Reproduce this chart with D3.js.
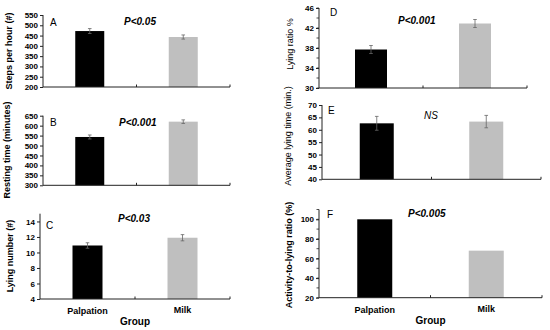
<!DOCTYPE html>
<html><head><meta charset="utf-8">
<script src="https://cdn.jsdelivr.net/npm/d3@7"></script>
<style>body{margin:0;background:#fff}svg{display:block}text{font-family:"Liberation Sans","Open Sans",Arial,sans-serif}</style>
</head><body><svg id="c" width="550" height="330"></svg>
<script>
const groups = ["Palpation", "Milk"];
const stepsPerHour = [472, 443];
const stepsErr = [12, 10];
const restingTime = [543, 620];
const restingErr = [10, 9];
const lyingNumber = [10.9, 11.9];
const lyingNumberErr = [0.35, 0.4];
const lyingRatio = [37.7, 42.9];
const lyingRatioErr = [0.8, 0.8];
const avgLyingTime = [62.6, 63.3];
const avgLyingErr = [2.8, 2.5];
const activityRatio = [100, 68];
const stepsTicks = [200,250,300,350,400,450,500,550];
const restingTicks = [300,350,400,450,500,550,600,650];
const lyingNumberTicks = [4,6,8,10,12,14];
const lyingRatioTicks = [30,34,38,42,46];
const avgLyingTicks = [40,45,50,55,60,65,70];
const activityTicks = [20,40,60,80,100];
const pLabels = ["P<0.05","P<0.001","P<0.03","P<0.001","NS","P<0.005"];
const panelLetters = ["A","B","C","D","E","F"];
const yTitles = ["Steps per hour (#)","Resting time (minutes)","Lying number (#)","Lying ratio %","Average lying time (min.)","Activity-to-lying ratio (%)"];
const xTitle = "Group";

const svg = d3.select("#c");
const colors = ["#000000", "#bfbfbf"];

const panels = [
 {vals:stepsPerHour, err:stepsErr, ticks:stepsTicks, minor:null, dom:[200,550], x0:43, x1:230, yb:87, yt:15, bw:29,
  letter:[50,26], p:[124,25], title:[12,51], tb:true, pItalic:true, pBold:true},
 {vals:restingTime, err:restingErr, ticks:restingTicks, minor:null, dom:[300,650], x0:43, x1:230, yb:185.3, yt:115.7, bw:29,
  letter:[50,126], p:[119,126], title:[10,150], tb:true, pItalic:true, pBold:true},
 {vals:lyingNumber, err:lyingNumberErr, ticks:lyingNumberTicks, minor:null, dom:[4,15], x0:40, x1:230, yb:299, yt:213.7, bw:30,
  letter:[46,229], p:[118,222], title:[13,256], tb:true, pItalic:true, pBold:true, xl:true},
 {vals:lyingRatio, err:lyingRatioErr, ticks:lyingRatioTicks, minor:2, dom:[30,46], x0:319, x1:527, yb:88, yt:8, bw:32,
  letter:[330,16], p:[398,24], title:[293,44], tb:false, pItalic:true, pBold:true},
 {vals:avgLyingTime, err:avgLyingErr, ticks:avgLyingTicks, minor:null, dom:[40,70], x0:322, x1:541, yb:179.3, yt:105, bw:34,
  letter:[328,114], p:[424,119], title:[291,136], tb:false, pItalic:true, pBold:false},
 {vals:activityRatio, err:null, ticks:activityTicks, minor:10, dom:[20,110], x0:319, x1:542, yb:297.7, yt:209.5, bw:35,
  letter:[327,218], p:[408,217], title:[292,255], tb:true, pItalic:true, pBold:true, xl:true}
];

panels.forEach((P, i) => {
  const g = svg.append("g");
  const y = d3.scaleLinear().domain(P.dom).range([P.yb, P.yt]);
  const x = d3.scalePoint().domain(groups).range([P.x0, P.x1]).padding(0.5);
  // bars
  g.selectAll("rect.bar").data(P.vals).join("rect")
    .attr("x", (d,j) => x(groups[j]) - P.bw/2)
    .attr("width", P.bw)
    .attr("y", d => y(d))
    .attr("height", d => P.yb - y(d))
    .attr("fill", (d,j) => colors[j]);
  // error bars
  if (P.err) {
    P.vals.forEach((v,j) => {
      const cx = x(groups[j]);
      const e = P.err[j];
      g.append("line").attr("x1",cx).attr("x2",cx).attr("y1",y(v-e)).attr("y2",y(v+e)).attr("stroke","#666").attr("stroke-width",0.8);
      [v-e, v+e].forEach(t => g.append("line").attr("x1",cx-1.8).attr("x2",cx+1.8).attr("y1",y(t)).attr("y2",y(t)).attr("stroke","#666").attr("stroke-width",0.8));
    });
  }
  // minor ticks
  if (P.minor) {
    const mt = d3.range(P.dom[0], P.dom[1] + 0.001, P.minor);
    g.selectAll("line.mt").data(mt).join("line")
      .attr("x1", P.x0-2.5).attr("x2", P.x0).attr("y1", d=>y(d)).attr("y2", d=>y(d)).attr("stroke","#222").attr("stroke-width",0.8);
  }
  // y axis
  const ya = d3.axisLeft(y).tickValues(P.ticks).tickSize(3).tickPadding(2).tickFormat(d3.format("d"));
  const yg = g.append("g").attr("transform", `translate(${P.x0},0)`).call(ya);
  yg.select(".domain").attr("stroke","#222").attr("d", `M-0,${P.yt}V${P.yb}`);
  yg.selectAll(".tick line").attr("stroke","#222");
  yg.selectAll("text").attr("font-size", 8).attr("font-weight","bold").attr("fill","#000");
  // x axis
  const xg = g.append("g");
  xg.append("line").attr("x1",P.x0).attr("x2",P.x1).attr("y1",P.yb).attr("y2",P.yb).attr("stroke","#222").attr("stroke-width",1);
  [ (P.x0+P.x1)/2, P.x1 ].forEach(t => xg.append("line").attr("x1",t).attr("x2",t).attr("y1",P.yb).attr("y2",P.yb-2.5).attr("stroke","#222"));
  if (P.xl) {
    groups.forEach((gname,j) => {
      g.append("text").attr("x", x(gname)).attr("y", P.yb + (j===0?15:14)).attr("text-anchor","middle")
        .attr("font-size",9).attr("font-weight","bold").text(gname);
    });
    g.append("text").attr("x",(P.x0+P.x1)/2).attr("y",P.yb+26).attr("text-anchor","middle")
      .attr("font-size",10).attr("font-weight","bold").text(xTitle);
  }
  // letter
  g.append("text").attr("x",P.letter[0]).attr("y",P.letter[1]).attr("font-size",10).text(panelLetters[i]);
  // p-value
  g.append("text").attr("x",P.p[0]).attr("y",P.p[1]).attr("font-size",10)
    .attr("font-style", P.pItalic ? "italic" : "normal").attr("font-weight", P.pBold ? "bold" : "normal").text(pLabels[i]);
  // y title
  g.append("text").attr("transform",`translate(${P.title[0]},${P.title[1]}) rotate(-90)`).attr("text-anchor","middle")
    .attr("font-size",9).attr("font-weight", P.tb ? "bold" : "normal").text(yTitles[i]);
});
</script></body></html>
